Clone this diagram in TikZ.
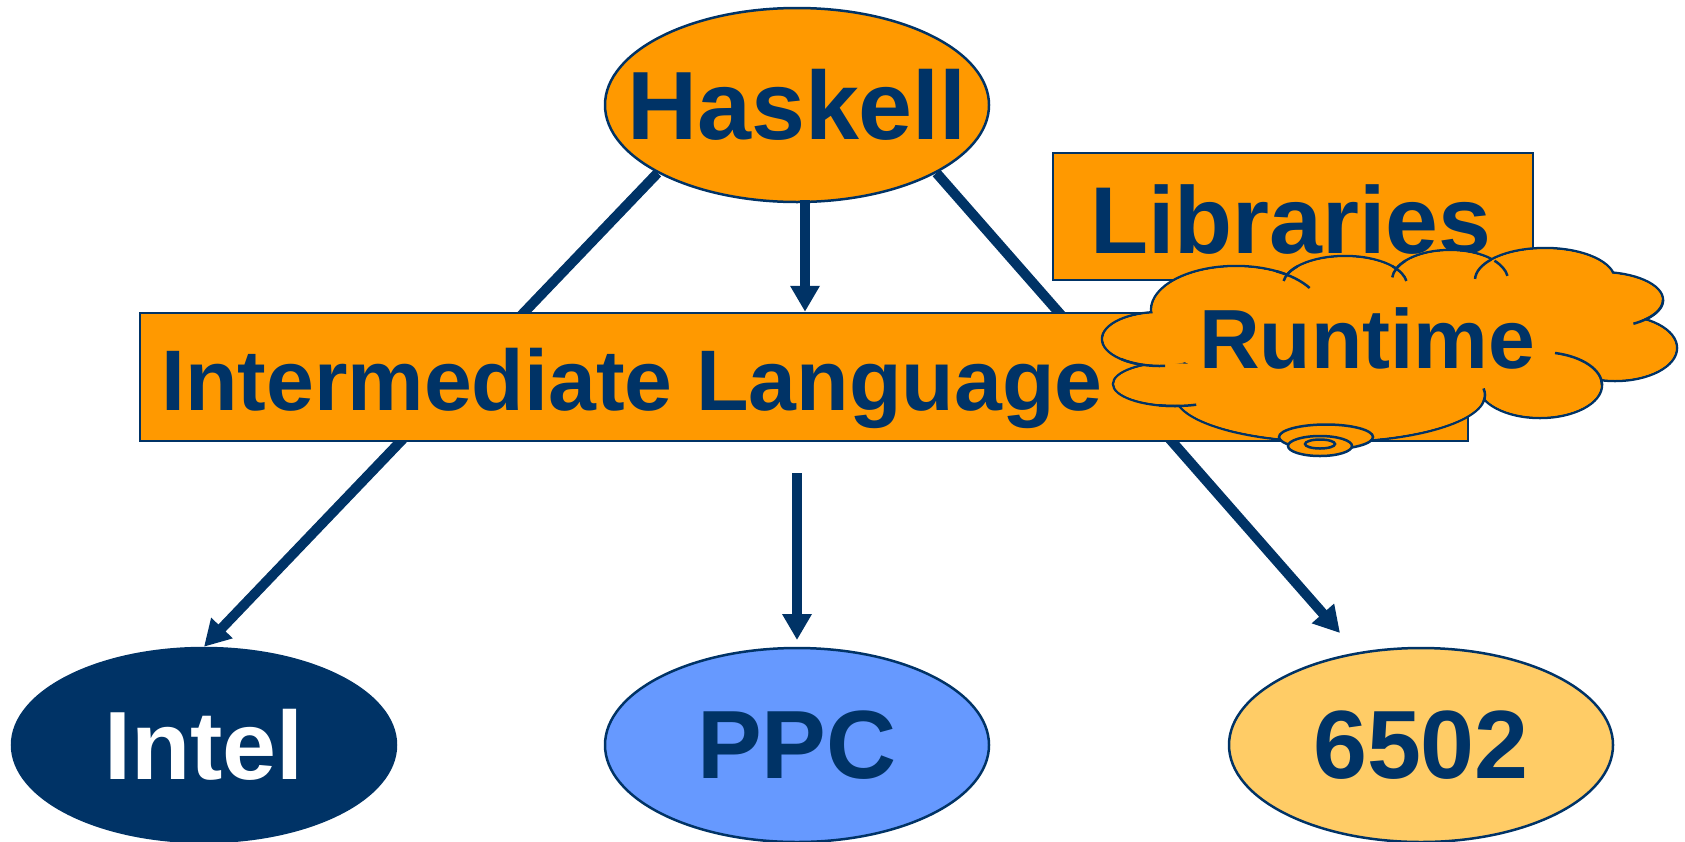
\documentclass[tikz,border=0pt]{standalone}
\usepackage{fontspec}
\setmainfont{Liberation Sans}
\usetikzlibrary{shapes.geometric,arrows.meta}
\definecolor{orange0}{HTML}{FF9900}
\definecolor{navy}{HTML}{003366}
\definecolor{ppcblue}{HTML}{6699FF}
\definecolor{lightor}{HTML}{FFCC66}
\tikzset{
  oval/.style={ellipse, draw=navy, line width=2.5pt, minimum width=384pt, minimum height=194pt, inner xsep=-60pt, inner ysep=-30pt},
  bigtxt/.style={font=\bfseries\fontsize{97}{100}\selectfont, text=navy},
  libtxt/.style={font=\bfseries\fontsize{95}{100}\selectfont, text=navy, inner sep=0pt, anchor=base west},
  iltxt/.style={font=\bfseries\fontsize{86}{90}\selectfont, text=navy, inner sep=0pt, anchor=base west},
  rttxt/.style={font=\bfseries\fontsize{84}{90}\selectfont, text=navy, inner sep=0pt, anchor=base west},
  box/.style={rectangle, draw=navy, line width=2.5pt, fill=orange0, inner sep=0pt},
  conn/.style={draw=navy, line width=10pt, -{Triangle[width=28pt,length=26pt]}},
  lobeline/.style={draw=navy, line width=2.5pt, fill=orange0},
  tail/.style={draw=navy, line width=2.5pt},
  bubble/.style={draw=navy, line width=2.5pt, fill=orange0}
}
\begin{document}
\begin{tikzpicture}[x=1pt,y=-1pt]
\useasboundingbox (0,0) rectangle (1685,841);
\node[oval, fill=orange0, bigtxt] (hask) at (797,105) {Haskell};
\node[oval, fill=navy, bigtxt, text=white] (intel) at (204,745) {Intel};
\node[oval, fill=ppcblue, bigtxt] (ppc) at (797,745) {PPC};
\node[oval, fill=lightor, bigtxt] (c6502) at (1421,745) {6502};
\coordinate (hs) at (805,200);
\coordinate (ilb) at (797,473);
\coordinate (ppctip) at (797,640);
\coordinate (tip6502) at (1340,633);
\path (hask.206) coordinate (hl) (hask.334) coordinate (hr);
\draw[conn] (hl) -- (intel.north);
\draw[conn] (hr) -- (tip6502);
\node[box, minimum width=1328pt, minimum height=128pt] (il) at (804,377) {};
\draw[conn] (hs) -- (il.north -| hs);
\draw[conn] (ilb) -- (ppctip);
\node[box, minimum width=480pt, minimum height=127pt] (lib) at (1293,216.5) {};
\node[iltxt] (iltext) at (161,410) {Intermediate Language};
\node[libtxt] (libtext) at (1090,253) {Libraries};
% cloud
\foreach \cx/\cy/\rx/\ry in {1236/310/85/44, 1345/285/62/29, 1450/280/58/30, 1545/280/70/32, 1600/300/63/28, 1615/348/62/33, 1540/385/62/33, 1330/395/155/47, 1175/384/62/22, 1160/339/58/27}
  \path[lobeline] (\cx,\cy) ellipse [x radius=\rx, y radius=\ry];
\foreach \cx/\cy/\rx/\ry in {1236/310/85/44, 1345/285/62/29, 1450/280/58/30, 1545/280/70/32, 1600/300/63/28, 1615/348/62/33, 1540/385/62/33, 1330/395/155/47, 1175/384/62/22, 1160/339/58/27}
  \fill[orange0] (\cx,\cy) ellipse [x radius=\rx-1.3, y radius=\ry-1.3];
\fill[orange0] (1390,335) ellipse [x radius=230, y radius=60];
% inner tails
\foreach \cx/\cy/\rx/\ry/\a/\b in {1160/339/58/27/85/132, 1175/384/62/22/70/105, 1236/310/85/44/-62/-30, 1345/285/62/29/-172/-140, 1450/280/58/30/-175/-140, 1345/285/62/29/-40/-8, 1545/280/70/32/-178/-140, 1450/280/58/30/-40/-8, 1600/300/63/28/0/58, 1540/385/62/33/-76/0, 1330/395/155/47/-8/8}
  \draw[tail] ({\cx+\rx*cos(\a)},{\cy+\ry*sin(\a)}) arc [start angle=\a, end angle=\b, x radius=\rx, y radius=\ry];
% thought bubbles
\path[bubble] (1326,437) ellipse [x radius=47, y radius=12.5];
\path[bubble] (1320,446) ellipse [x radius=32, y radius=10];
\path[bubble] (1320,444) ellipse [x radius=15, y radius=4.5];
\node[rttxt] (rt) at (1199,368) {Runtime};
\end{tikzpicture}
\end{document}
